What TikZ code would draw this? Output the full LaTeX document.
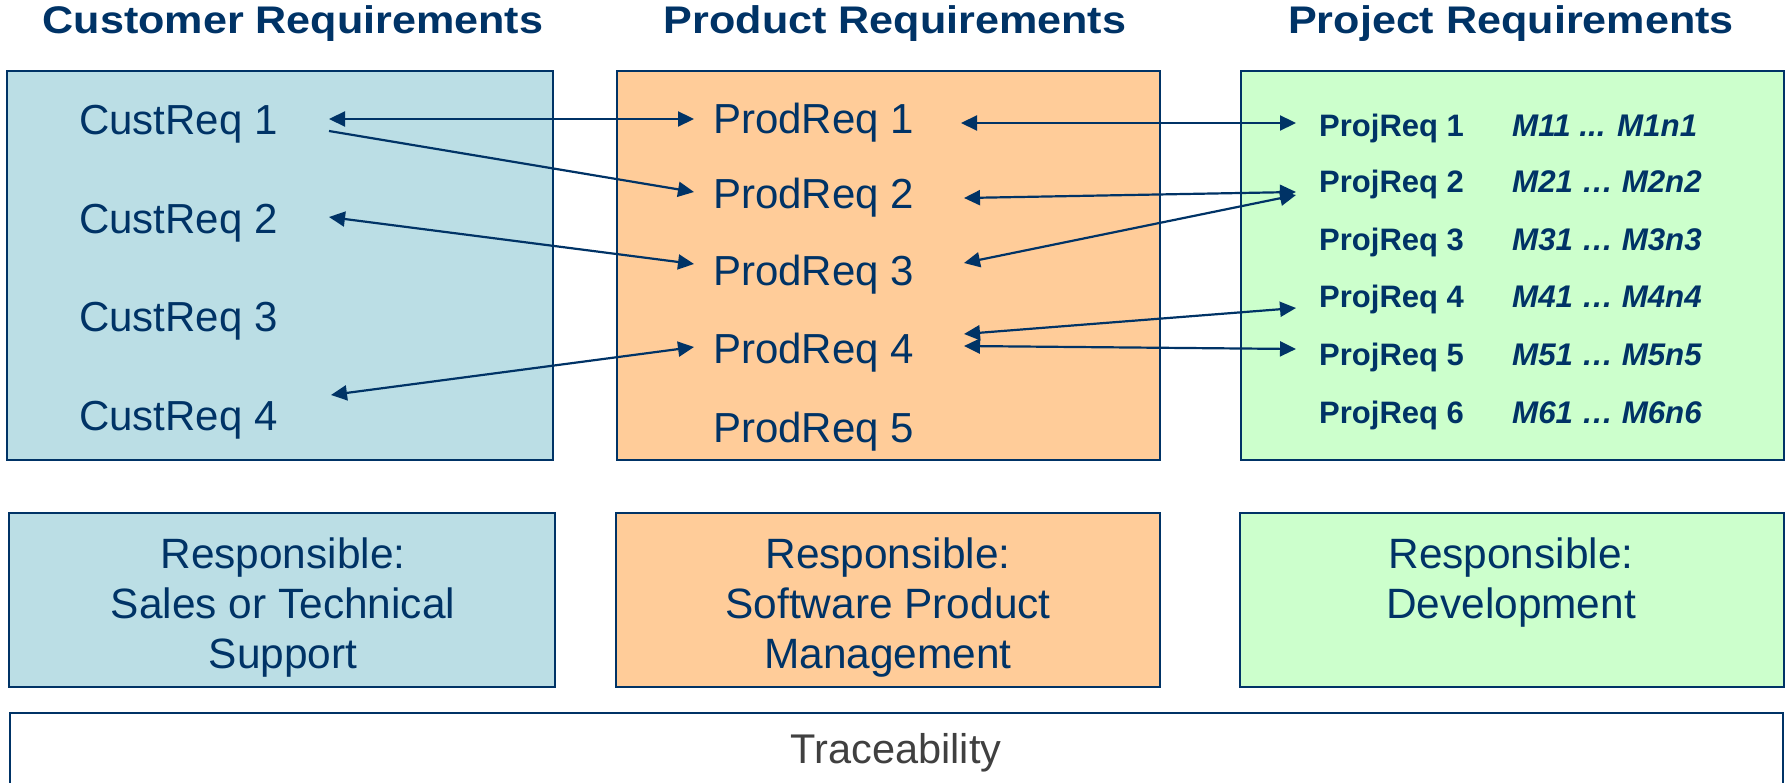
\documentclass[tikz,border=0pt]{standalone}
\usepackage{fontspec}
\setmainfont{Liberation Sans}
\newfontfamily\headfont[FakeStretch=1.12]{Liberation Sans}
\usetikzlibrary{arrows.meta}
\definecolor{navy}{RGB}{0,51,102}
\definecolor{bluefill}{RGB}{187,222,229}
\definecolor{orangefill}{RGB}{255,204,153}
\definecolor{greenfill}{RGB}{204,255,204}
\definecolor{tracegray}{RGB}{64,64,64}
\begin{document}
\begin{tikzpicture}[x=1pt,y=-1pt,
  box/.style={draw=navy,line width=2.4pt},
  head/.style={anchor=base,inner sep=0pt,text=navy,font=\headfont\bfseries\fontsize{38.5}{44}\selectfont},
  req/.style={anchor=base west,inner sep=0pt,text=navy,font=\fontsize{42}{48}\selectfont},
  proj/.style={anchor=base west,inner sep=0pt,text=navy,font=\bfseries\fontsize{31}{36}\selectfont},
  meas/.style={anchor=base west,inner sep=0pt,text=navy,font=\bfseries\itshape\fontsize{31.3}{36}\selectfont},
  resp/.style={anchor=base,inner sep=0pt,text=navy,font=\fontsize{42.4}{48}\selectfont},
  link/.style={draw=navy,line width=2.2pt},
  >={Triangle[length=16pt,width=15pt]}
]
\useasboundingbox (0,0) rectangle (1791,783);

% headings
\node[head] (hc) at (293,34) {Customer Requirements};
\node[head] (hp) at (895,34) {Product Requirements};
\node[head] (hj) at (1511,34) {Project Requirements};

% top boxes
\draw[box,fill=bluefill] (7,71) rectangle (553,460);
\draw[box,fill=orangefill] (617,71) rectangle (1160,460);
\draw[box,fill=greenfill] (1241,71) rectangle (1784,460);

% bottom boxes
\draw[box,fill=bluefill] (9,513) rectangle (555,687);
\draw[box,fill=orangefill] (616,513) rectangle (1160,687);
\draw[box,fill=greenfill] (1240,513) rectangle (1784,687);

% traceability box
\draw[box,fill=white] (10,713) rectangle (1783,815);

% customer requirements
\node[req] (c1) at (79,135) {CustReq 1};
\node[req] (c2) at (79,234) {CustReq 2};
\node[req] (c3) at (79,332) {CustReq 3};
\node[req] (c4) at (79,431) {CustReq 4};

% product requirements
\node[req] (p1) at (713,134) {ProdReq 1};
\node[req] (p2) at (713,209) {ProdReq 2};
\node[req] (p3) at (713,286) {ProdReq 3};
\node[req] (p4) at (713,364) {ProdReq 4};
\node[req] (p5) at (713,442) {ProdReq 5};

% project requirements
\node[proj] (j1) at (1319,137) {ProjReq 1};
\node[proj] (j2) at (1319,193) {ProjReq 2};
\node[proj] (j3) at (1319,251) {ProjReq 3};
\node[proj] (j4) at (1319,308) {ProjReq 4};
\node[proj] (j5) at (1319,366) {ProjReq 5};
\node[proj] (j6) at (1319,424) {ProjReq 6};

\node[meas] (m1) at (1512,137) {M11 ... M1n1};
\node[meas] (m2) at (1512,193) {M21 … M2n2};
\node[meas] (m3) at (1512,251) {M31 … M3n3};
\node[meas] (m4) at (1512,308) {M41 … M4n4};
\node[meas] (m5) at (1512,366) {M51 … M5n5};
\node[meas] (m6) at (1512,424) {M61 … M6n6};

% connector end points
\coordinate (c1a) at (329,119);
\coordinate (c1b) at (329,131);
\coordinate (c2a) at (329,217);
\coordinate (c4a) at (331,395);
\coordinate (p1l) at (694,119);
\coordinate (p2l) at (694,192);
\coordinate (p3l) at (694,264);
\coordinate (p4l) at (694,347);
\coordinate (p1r) at (961,123);
\coordinate (p2r) at (964,198);
\coordinate (p3r) at (964,263);
\coordinate (p4ra) at (964,334);
\coordinate (p4rb) at (964,346);
\coordinate (j1l) at (1296,123);
\coordinate (j2la) at (1296,192);
\coordinate (j2lb) at (1296,195);
\coordinate (j4l) at (1296,308);
\coordinate (j5l) at (1296,349);

% connectors
\draw[link,<->] (c1a) -- (p1l);
\draw[link,->] (c1b) -- (p2l);
\draw[link,<->] (c2a) -- (p3l);
\draw[link,<->] (c4a) -- (p4l);
\draw[link,<->] (p1r) -- (j1l);
\draw[link,<->] (p2r) -- (j2la);
\draw[link,<->] (p3r) -- (j2lb);
\draw[link,<->] (p4ra) -- (j4l);
\draw[link,<->] (p4rb) -- (j5l);

% responsible texts
\node[resp] (rb1) at (283,568) {Responsible:};
\node[resp] (rb2) at (283,618) {Sales or Technical};
\node[resp] (rb3) at (283,668) {Support};
\node[resp] (ro1) at (888,568) {Responsible:};
\node[resp] (ro2) at (888,618) {Software Product};
\node[resp] (ro3) at (888,668) {Management};
\node[resp] (rg1) at (1511,568) {Responsible:};
\node[resp] (rg2) at (1511,618) {Development};

% traceability
\node[anchor=base,inner sep=0pt,text=tracegray,font=\fontsize{41.5}{46}\selectfont] (tr) at (896,763) {Traceability};
\end{tikzpicture}
\end{document}
